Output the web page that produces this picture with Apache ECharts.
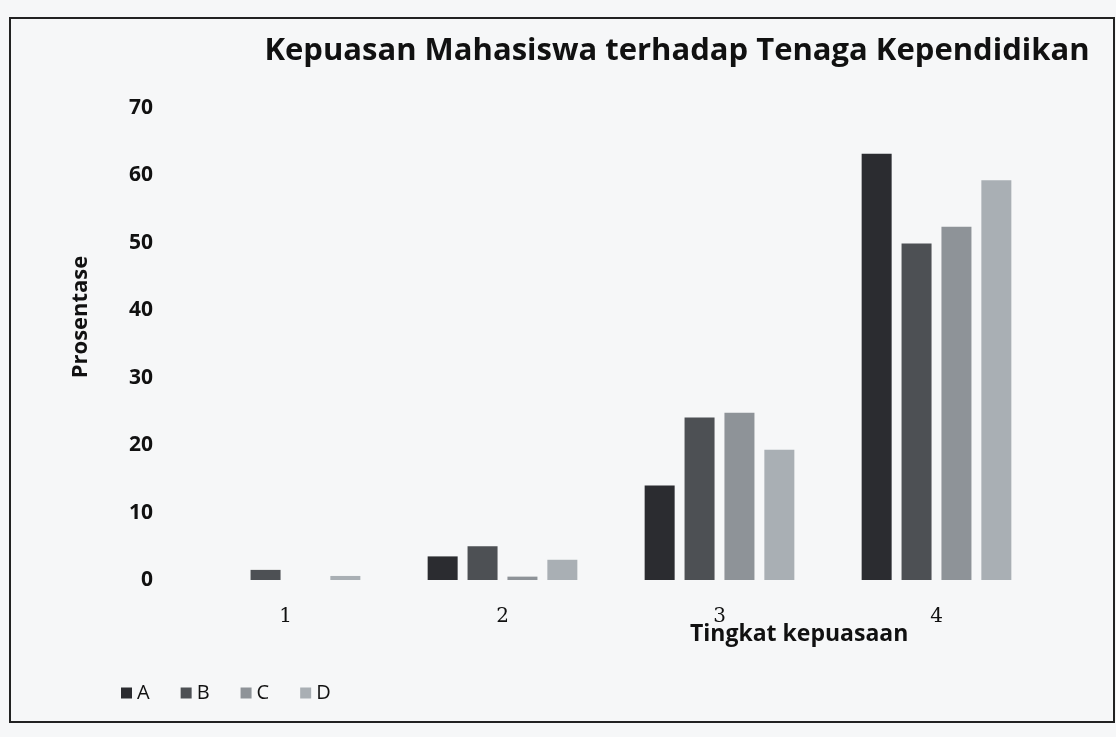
<!DOCTYPE html>
<html>
<head>
<meta charset="utf-8">
<script src="https://cdn.jsdelivr.net/npm/echarts@6/dist/echarts.min.js"></script>
<style>
  html, body { margin: 0; padding: 0; background: #f6f7f8; }
  #chart { width: 1116px; height: 737px; }
</style>
</head>
<body>
<div id="chart"></div>
<script>
// Tingkat kepuasan (kategori) dan persentase tiap kelompok
var categories = ['1', '2', '3', '4'];
var seriesNames = ['A', 'B', 'C', 'D'];
var valuesA = [0, 3.5, 14, 63.2];
var valuesB = [1.5, 5, 24.1, 49.9];
var valuesC = [0, 0.5, 24.8, 52.4];
var valuesD = [0.6, 3, 19.3, 59.3];
var yTicks = [0, 70, 10]; // min, max, interval

var colors = ['#2b2c30', '#4d5054', '#8e9398', '#a9afb4'];
var allValues = [valuesA, valuesB, valuesC, valuesD];

var chart = echarts.init(document.getElementById('chart'));

var series = seriesNames.map(function (name, i) {
  return {
    name: name,
    type: 'bar',
    data: allValues[i],
    barWidth: 30,
    barGap: '33%',
    itemStyle: { color: colors[i] },
  };
});

var option = {
  backgroundColor: '#f6f7f8',
  color: colors,
  title: {
    text: 'Kepuasan Mahasiswa terhadap Tenaga Kependidikan',
    left: 672,
    top: 31,
    textAlign: 'center',
    textStyle: {
      fontFamily: 'Open Sans',
      fontWeight: 'bold',
      fontSize: 31,
      color: '#111',
    },
  },
  legend: {
    data: seriesNames,
    left: 116,
    top: 678,
    icon: 'rect',
    itemWidth: 11,
    itemHeight: 11,
    itemGap: 31,
    textStyle: { fontFamily: 'Open Sans', fontSize: 20, color: '#111' },
  },
  grid: { left: 177, right: 71, top: 108, bottom: 157 },
  xAxis: {
    type: 'category',
    data: categories,
    axisLine: { show: false },
    axisTick: { show: false },
    axisLabel: {
      margin: 27,
      fontFamily: 'DejaVu Serif',
      fontSize: 20,
      color: '#111',
    },
  },
  yAxis: {
    type: 'value',
    min: yTicks[0],
    max: yTicks[1],
    interval: yTicks[2],
    splitLine: { show: false },
    axisLine: { show: false },
    axisTick: { show: false },
    axisLabel: {
      margin: 24,
      fontFamily: 'Open Sans',
      fontWeight: 'bold',
      fontSize: 21,
      color: '#111',
    },
  },
  graphic: [
    {
      type: 'text',
      x: 81,
      y: 317,
      rotation: Math.PI / 2,
      style: {
        text: 'Prosentase',
        align: 'center',
        verticalAlign: 'middle',
        fontFamily: 'Open Sans',
        fontWeight: 'bold',
        fontSize: 22,
        fill: '#111',
      },
    },
    {
      type: 'text',
      left: 690,
      top: 623,
      style: {
        text: 'Tingkat kepuasaan',
        fontFamily: 'Open Sans',
        fontWeight: 'bold',
        fontSize: 23,
        fill: '#111',
      },
    },
    {
      type: 'rect',
      shape: { x: 10, y: 18, width: 1104, height: 704 },
      style: { fill: 'none', stroke: '#222', lineWidth: 2 },
      silent: true,
    },
  ],
  series: series,
};

chart.setOption(option);
</script>
</body>
</html>
